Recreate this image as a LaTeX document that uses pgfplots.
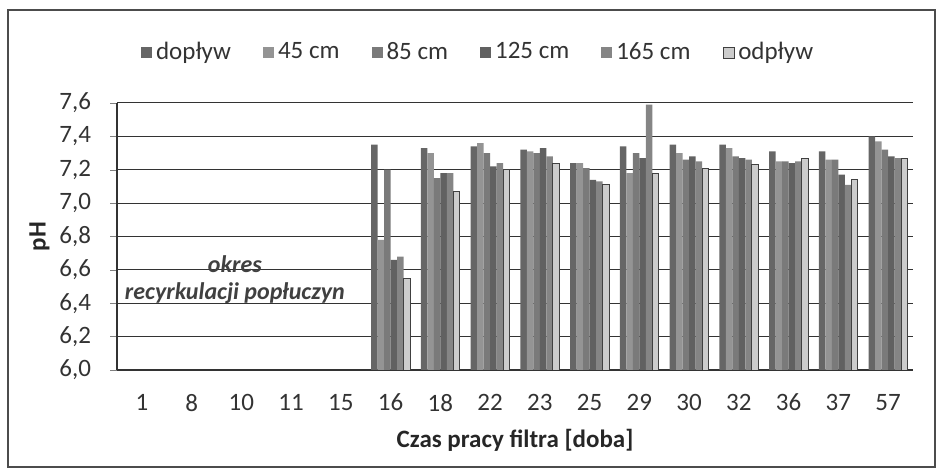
\documentclass[border=0pt]{standalone}
\usepackage{pgfplots}
\pgfplotsset{compat=1.18}
\usepackage{pgfplotstable}
\usepackage{fontspec}
\setmainfont{Carlito}

% pH per day, categories placed at 0..15 (days 1..15 have no data)
\pgfplotstableread{
x  dop  c45  c85  c125 c165 odp
5  7.35 6.78 7.20 6.66 6.68 6.55
6  7.33 7.30 7.15 7.18 7.18 7.07
7  7.34 7.36 7.30 7.22 7.24 7.20
8  7.32 7.31 7.30 7.33 7.28 7.24
9  7.24 7.24 7.21 7.14 7.13 7.11
10 7.34 7.18 7.30 7.27 7.59 7.18
11 7.35 7.30 7.26 7.28 7.25 7.21
12 7.35 7.33 7.28 7.27 7.26 7.23
13 7.31 7.25 7.25 7.24 7.25 7.27
14 7.31 7.26 7.26 7.17 7.11 7.14
15 7.40 7.37 7.32 7.28 7.27 7.27
}\phdata

\definecolor{cdop}{gray}{0.40}
\definecolor{cfortyfive}{gray}{0.58}
\definecolor{ceightyfive}{gray}{0.48}
\definecolor{conetwentyfive}{gray}{0.38}
\definecolor{conesixtyfive}{gray}{0.52}
\definecolor{codp}{gray}{0.80}

\begin{document}
\begin{tikzpicture}
\useasboundingbox (0,0) rectangle (468pt,237pt);
\draw[gray!60!black, line width=0.8pt] (4pt,3.5pt) rectangle (467.6pt,232pt);
\begin{axis}[
    at={(58.5pt,52pt)}, anchor=south west,
    scale only axis, width=398pt, height=133.5pt,
    ybar=0pt, bar width=0.13,
    xmin=-0.5, xmax=15.5,
    ymin=6, ymax=7.6,
    xtick={0,...,15},
    xticklabels={1,8,10,11,15,16,18,22,23,25,29,30,32,36,37,57},
    ytick={6,6.2,...,7.61},
    major x tick style={draw=none},
    tick align=outside, major tick length=3.5pt,
    axis x line*=bottom, axis y line*=left,
    axis line style={gray!40!black, line width=0.6pt},
    ymajorgrids, grid style={gray!40!black, line width=0.5pt},
    font=\fontsize{12.5pt}{14pt}\selectfont,
    tick label style={text=black!80},
    /pgf/number format/assume math mode=true,
    yticklabel style={/pgf/number format/fixed, /pgf/number format/fixed zerofill,
        /pgf/number format/precision=1, /pgf/number format/use comma, xshift=-6pt},
    xticklabel style={yshift=-5pt},
    xlabel={\bfseries Czas pracy filtra [doba]},
    ylabel={\bfseries pH},
    xlabel style={yshift=-2pt, text=black!85},
    ylabel style={yshift=-2pt, text=black!85},
    legend columns=6,
    legend style={draw=none, fill=none, at={(0.455,1.19)}, anchor=center,
        font=\fontsize{12.5pt}{14pt}\selectfont, text=black!80,
        /tikz/every even column/.append style={column sep=14pt}},
    legend image code/.code={\fill[#1] (0pt,-3pt) rectangle (5.5pt,2.5pt);},
]
\addplot[fill=cdop, draw=none] table[x=x, y=dop] {\phdata};
\addlegendentry{dopływ}
\addplot[fill=cfortyfive, draw=none] table[x=x, y=c45] {\phdata};
\addlegendentry{45 cm}
\addplot[fill=ceightyfive, draw=none] table[x=x, y=c85] {\phdata};
\addlegendentry{85 cm}
\addplot[fill=conetwentyfive, draw=none] table[x=x, y=c125] {\phdata};
\addlegendentry{125 cm}
\addplot[fill=conesixtyfive, draw=none] table[x=x, y=c165] {\phdata};
\addlegendentry{165 cm}
\addplot[fill=codp, draw=gray!50!black, line width=0.4pt] table[x=x, y=odp] {\phdata};
\addlegendentry{odpływ}
\node[font=\fontsize{12pt}{14pt}\selectfont\bfseries\itshape, text=black!75] at (axis cs:1.87,6.636) {okres};
\node[font=\fontsize{12pt}{14pt}\selectfont\bfseries\itshape, text=black!75] at (axis cs:1.87,6.462) {recyrkulacji popłuczyn};
\end{axis}
\end{tikzpicture}
\end{document}
